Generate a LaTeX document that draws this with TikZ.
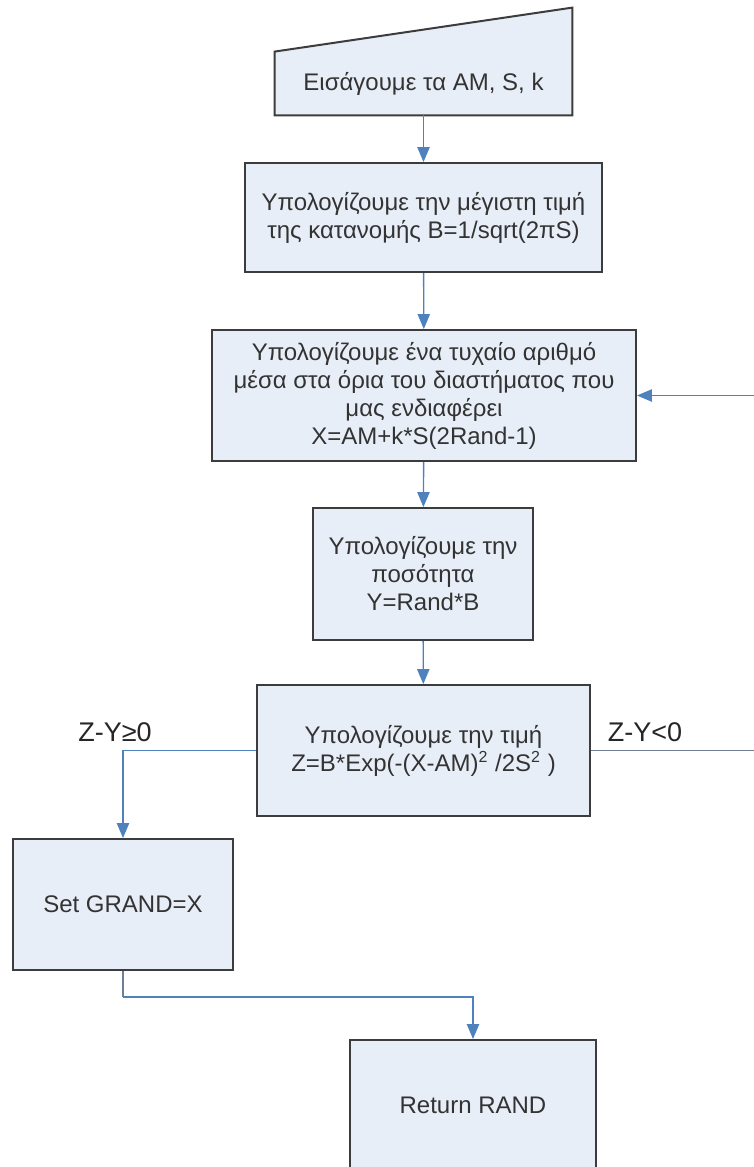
\documentclass[tikz,border=0pt]{standalone}
\usepackage{fontspec}
\setmainfont{Liberation Sans}
\usetikzlibrary{shapes, arrows, positioning}
\definecolor{boxfill}{RGB}{232,238,248}
\definecolor{boxline}{RGB}{60,60,60}
\definecolor{flowblue}{RGB}{79,129,189}
\definecolor{flowgray}{RGB}{112,126,150}
\tikzstyle{process} = [draw=boxline, fill=boxfill, line width=1pt, rectangle, align=center, inner sep=2pt, text=black!80, font=\fontsize{12}{14}\selectfont]
\tikzstyle{datain} = [rectangle, align=center, inner sep=2pt, text=black!80, font=\fontsize{12}{14}\selectfont]
\tikzstyle{flow} = [draw=flowblue, line width=0.7pt, -triangle 45]
\tikzstyle{loopline} = [draw=flowgray, line width=0.7pt]
\tikzstyle{condlabel} = [text=black!85, font=\fontsize{13.5}{15}\selectfont]

\begin{document}
\begin{tikzpicture}[x=0.5pt, y=-0.5pt]
	\useasboundingbox (0,0) rectangle (754,1167);
	\clip (0,0) rectangle (754,1167);
	% manual input
	\node [datain, minimum width=148.5pt, minimum height=31.5pt] (input) at (423.5,83.5) {};
	\draw [draw=boxline, fill=boxfill, line width=1pt] (input.south west) -- (input.north west) -- ([yshift=22pt]input.north east) -- (input.south east) -- cycle;
	\node [datain] (inputtext) at (input) {Εισάγουμε τα AM, S, k};
	% process steps
	\node [process, minimum width=178.5pt, minimum height=54.5pt] (peak) at (423.5,217.5) {Υπολογίζουμε την μέγιστη τιμή\\της κατανομής B=1/sqrt(2πS)};
	\node [process, minimum width=212pt, minimum height=65.5pt] (draw) at (424,395.5) {Υπολογίζουμε ένα τυχαίο αριθμό\\μέσα στα όρια του διαστήματος που\\μας ενδιαφέρει\\X=AM+k*S(2Rand-1)};
	\node [process, minimum width=110pt, minimum height=66pt] (qty) at (423,574) {Υπολογίζουμε την\\ποσότητα\\Y=Rand*B};
	\node [process, minimum width=166.5pt, minimum height=65.5pt] (value) at (423.5,750.5) {Υπολογίζουμε την τιμή\\Z=B*Exp(-(X-AM)\textsuperscript{2} /2S\textsuperscript{2} )};
	\node [process, minimum width=110pt, minimum height=65.5pt] (grand) at (123,904.5) {Set GRAND=X};
	\node [process, minimum width=123pt, minimum height=65pt] (ret) at (473,1105) {Return RAND};
	% branch labels
	\node [condlabel] (yes) at (115,732) {Z-Y≥0};
	\node [condlabel] (no) at (645,732) {Z-Y<0};
	% connectors
	\draw [flow] (input) -- (peak);
	\draw [flow] (peak) -- (draw);
	\draw [flow] (draw) -- (qty);
	\draw [flow] (qty) -- (value);
	\draw [flow] (value.west) -| (grand.north);
	\coordinate (back) at (790,395.5);
	\draw [loopline] (value.east) -| (back);
	\draw [flow] (back) -- (draw.east);
	\coordinate (elbow) at (123,997);
	\draw [loopline] (grand.south) -- (elbow);
	\draw [flow] (elbow) -| (ret.north);
\end{tikzpicture}
\end{document}
